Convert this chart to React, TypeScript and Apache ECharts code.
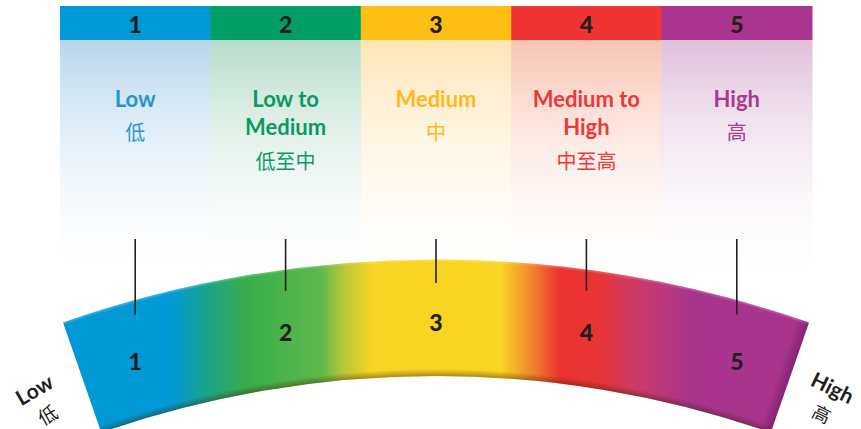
import React, { useEffect, useRef } from 'react';
import * as echarts from 'echarts';

// ---- data ----
const levels = ['1', '2', '3', '4', '5'];
const levelValues = [1, 2, 3, 4, 5];
const labelsEn = ['Low', 'Low to\nMedium', 'Medium', 'Medium to\nHigh', 'High'];
const labelsZh = ['低', '低至中', '中', '中至高', '高'];
const endLabelsEn = ['Low', 'High'];
const endLabelsZh = ['低', '高'];

// ---- styles ----
const HEADER_COLORS = ['#0098d6', '#009e67', '#fdbe15', '#ef3433', '#a9358e'];
const TEXT_COLORS = ['#1f96d3', '#0b9a63', '#fdb918', '#ee3737', '#a83990'];
const PANEL_COLORS = ['#b7d5ec', '#b7dccb', '#fde5b4', '#f9c3b3', '#dfc0da'];
const DARK = '#231f20';
const BAND_STOPS = [
  { offset: 0, color: '#0099d6' },
  { offset: 0.144, color: '#0099d6' },
  { offset: 0.186, color: '#17a296' },
  { offset: 0.245, color: '#38ad4b' },
  { offset: 0.345, color: '#5cb84b' },
  { offset: 0.378, color: '#bcc83a' },
  { offset: 0.415, color: '#f8d523' },
  { offset: 0.587, color: '#f9d523' },
  { offset: 0.623, color: '#f0902c' },
  { offset: 0.667, color: '#ec3232' },
  { offset: 0.721, color: '#e83436' },
  { offset: 0.761, color: '#cf3b63' },
  { offset: 0.842, color: '#a8348e' },
  { offset: 1, color: '#a8348e' },
];

// ---- layout ----
const W = 861;
const H = 429;
const HEADER_TOP = 6;
const HEADER_BOTTOM = 40;
const PANEL_BOTTOM = 292;
const LABEL_Y = 98;
const LINE_GAP = 28.5;
const ZH_GAP = 33.5;
const TICK_TOP = 239;
const TICK_APEX = 283;
const TICK_R = 1450;
const ARC_TOP = 259.5;
const ARC_R = 1136;
const ARC_R0 = 1019.5;
const NUM_APEX = 322;
const NUM_R = 1180;
const BAND_HALF = Math.asin(373 / 1136);
const EN_FONT = 'bold 22px Lato';
const ZH_FONT = '20px "Noto Sans CJK SC"';
const NUM_FONT = '900 23px Lato';

function txt(text: string, x: number, y: number, fill: string, font: string, extra: any = {}) {
  return {
    type: 'text',
    ...extra,
    style: {
      text, x, y, fill, font,
      textAlign: 'center', textVerticalAlign: 'middle',
      align: 'center', verticalAlign: 'middle',
    },
  };
}

function rotated(el: any, deg: number) {
  return { ...el, x: el.style.x, y: el.style.y, rotation: (deg * Math.PI) / 180, style: { ...el.style, x: 0, y: 0 } };
}

export default function App() {
  const ref = useRef<HTMLDivElement>(null);
  useEffect(() => {
    if (!ref.current) return;
    const chart = echarts.init(ref.current, null, { renderer: 'svg' });
    const centerIdx = 2;

    const option: any = {
      animation: false,
      backgroundColor: '#ffffff',
      grid: { left: 60, right: 49, top: 0, bottom: 0 },
      xAxis: { type: 'category', data: levels, show: false, boundaryGap: true },
      yAxis: { type: 'value', min: 0, max: H, inverse: true, show: false },
      series: [
        {
          type: 'custom',
          name: 'columns',
          z: 1,
          silent: true,
          clip: false,
          data: levelValues.map((v, i) => [i, v]),
          renderItem: (params: any, api: any) => {
            const i = api.value(0);
            const v = api.value(1);
            const cx = api.coord([i, 0])[0];
            const w = api.size([1, 0])[0];
            const left = cx - w / 2;
            const yHt = api.coord([i, HEADER_TOP])[1];
            const yHb = api.coord([i, HEADER_BOTTOM])[1];
            const yPb = api.coord([i, PANEL_BOTTOM])[1];
            const children: any[] = [
              {
                type: 'rect',
                shape: { x: left, y: yHb, width: w + 0.5, height: yPb - yHb },
                style: {
                  fill: new echarts.graphic.LinearGradient(0, 0, 0, 1, [
                    { offset: 0, color: PANEL_COLORS[i] },
                    { offset: 1, color: 'rgba(255,255,255,0)' },
                  ]),
                },
              },
              {
                type: 'rect',
                shape: { x: left, y: yHt, width: w + 0.5, height: yHb - yHt },
                style: { fill: HEADER_COLORS[i] },
              },
              txt(String(v), cx, (yHt + yHb) / 2 + 1, DARK, NUM_FONT),
            ];
            const lines = labelsEn[i].split('\n');
            lines.forEach((ln, k) => {
              children.push(txt(ln, cx, api.coord([i, LABEL_Y + k * LINE_GAP])[1], TEXT_COLORS[i], EN_FONT));
            });
            const zhY = LABEL_Y + (lines.length - 1) * LINE_GAP + ZH_GAP;
            children.push(txt(labelsZh[i], cx, api.coord([i, zhY])[1], TEXT_COLORS[i], ZH_FONT));
            return { type: 'group', children };
          },
        },
        {
          type: 'custom',
          name: 'band',
          z: 2,
          silent: true,
          clip: false,
          data: [[centerIdx, 0]],
          renderItem: (params: any, api: any) => {
            const cx = api.coord([centerIdx, 0])[0];
            const cy = api.coord([centerIdx, ARC_TOP])[1] + ARC_R;
            const s = Math.sin(BAND_HALF);
            const c = Math.cos(BAND_HALF);
            const x0 = cx - ARC_R * s;
            const x1 = cx + ARC_R * s;
            const shape = {
              cx, cy, r: ARC_R, r0: ARC_R0,
              startAngle: -Math.PI / 2 - BAND_HALF,
              endAngle: -Math.PI / 2 + BAND_HALF,
              clockwise: true,
            };
            const sr = ARC_R0 / ARC_R;
            const rm = (ARC_R + ARC_R0) / 2;
            const px = cx + rm * s;
            const py = cy - rm * c;
            return {
              type: 'group',
              children: [
                {
                  type: 'sector',
                  shape,
                  style: { fill: new echarts.graphic.LinearGradient(x0, 0, x1, 0, BAND_STOPS, true) },
                },
                {
                  type: 'sector',
                  shape,
                  style: {
                    fill: new echarts.graphic.RadialGradient(cx, cy, ARC_R, [
                      { offset: 0, color: 'rgba(60,30,0,0.4)' },
                      { offset: sr, color: 'rgba(60,30,0,0.4)' },
                      { offset: sr + 7 / ARC_R, color: 'rgba(60,30,0,0)' },
                      { offset: 1 - 3 / ARC_R, color: 'rgba(255,255,255,0)' },
                      { offset: 1, color: 'rgba(255,255,255,0.25)' },
                    ], true),
                  },
                },
                {
                  type: 'sector',
                  shape,
                  style: {
                    fill: new echarts.graphic.LinearGradient(px - 12 * c, py - 12 * s, px + 1 * c, py + 1 * s, [
                      { offset: 0, color: 'rgba(60,0,60,0)' },
                      { offset: 1, color: 'rgba(60,0,60,0.35)' },
                    ], true),
                  },
                },
                rotated(txt(endLabelsEn[0], cx - 402, api.coord([centerIdx, 389])[1], DARK, 'bold 21px Lato'), 30),
                rotated(txt(endLabelsZh[0], cx - 389, api.coord([centerIdx, 414])[1], DARK, '19px "Noto Sans CJK SC"'), 30),
                rotated(txt(endLabelsEn[1], cx + 397, api.coord([centerIdx, 387])[1], DARK, 'bold 21px Lato'), -26),
                rotated(txt(endLabelsZh[1], cx + 386, api.coord([centerIdx, 413])[1], DARK, '18px "Noto Sans CJK SC"'), -26),
              ],
            };
          },
        },
        {
          type: 'custom',
          name: 'ticks',
          z: 3,
          silent: true,
          clip: false,
          data: levelValues.map((v, i) => [i, v]),
          renderItem: (params: any, api: any) => {
            const i = api.value(0);
            const v = api.value(1);
            const x = api.coord([i, 0])[0];
            const cxc = api.coord([centerIdx, 0])[0];
            const dx = x - cxc;
            const tickEnd = TICK_APEX + TICK_R - Math.sqrt(TICK_R * TICK_R - dx * dx);
            const numY = NUM_APEX + NUM_R - Math.sqrt(NUM_R * NUM_R - dx * dx);
            return {
              type: 'group',
              children: [
                {
                  type: 'line',
                  shape: { x1: x, y1: api.coord([i, TICK_TOP])[1], x2: x, y2: api.coord([i, tickEnd])[1] },
                  style: { stroke: DARK, lineWidth: 1.6 },
                },
                txt(String(v), x, api.coord([i, numY])[1], DARK, NUM_FONT),
              ],
            };
          },
        },
      ],
    };
    chart.setOption(option);
    return () => chart.dispose();
  }, []);
  return <div ref={ref} style={{ position: 'fixed', left: 0, top: 0, width: W, height: H }} />;
}
